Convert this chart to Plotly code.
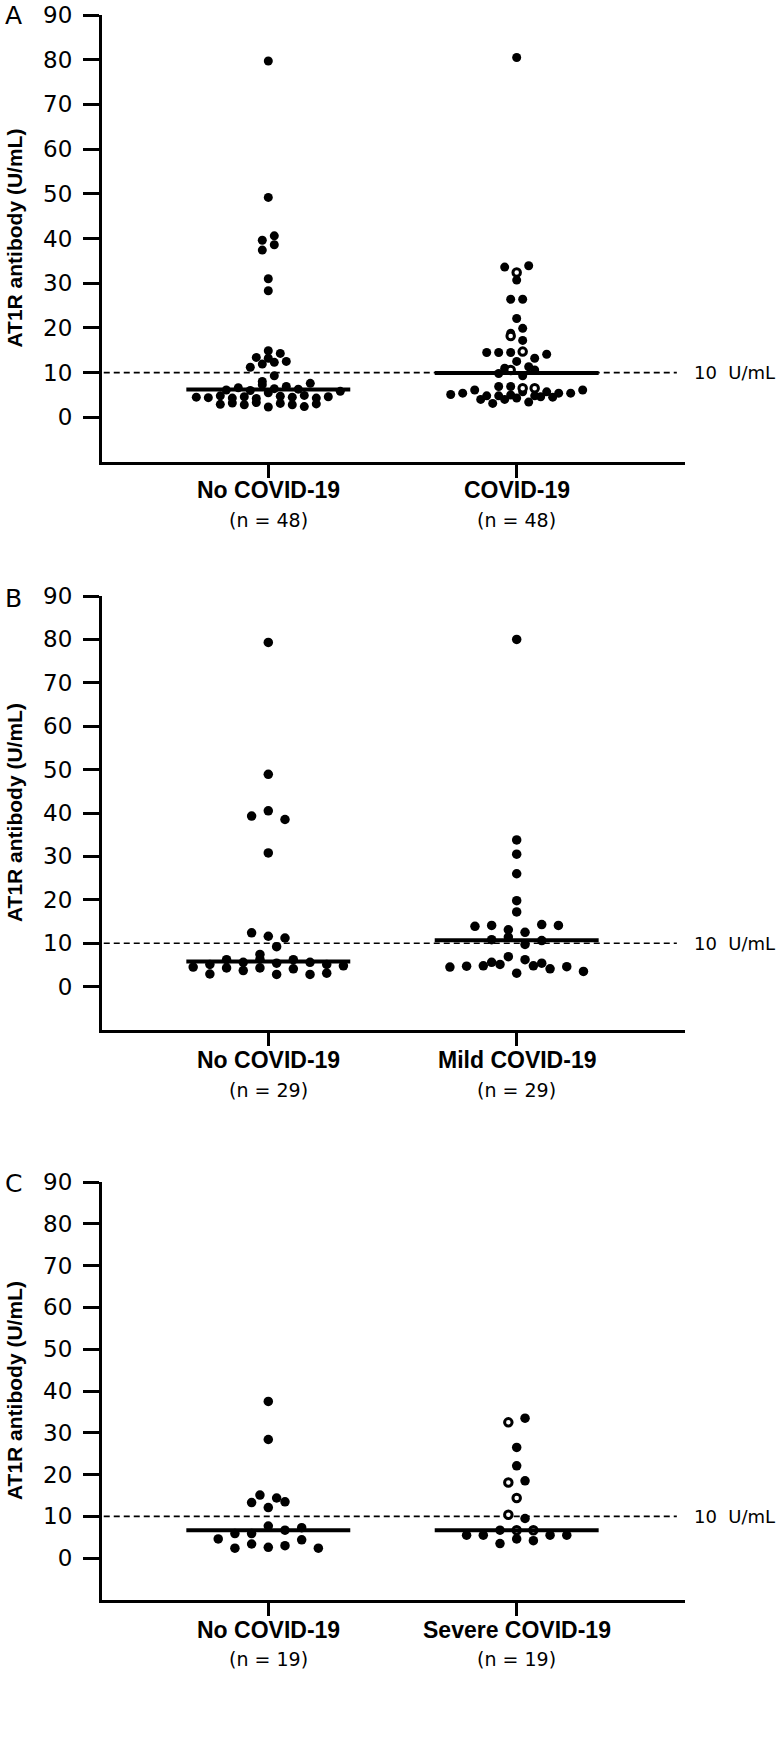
import plotly.graph_objects as go
import numpy as np

# ---------------- data ----------------
a_categories = ["No COVID-19", "COVID-19"]
b_categories = ["No COVID-19", "Mild COVID-19"]
c_categories = ["No COVID-19", "Severe COVID-19"]
a_counts = ["(n = 48)", "(n = 48)"]
b_counts = ["(n = 29)", "(n = 29)"]
c_counts = ["(n = 19)", "(n = 19)"]

a_no_covid = [2.9, 3.2, 2.8, 3.3, 2.3, 3.1, 2.8, 2.4, 3.0,
              4.5, 4.4, 4.8, 4.3, 4.6, 4.2, 5.5, 4.7, 4.5, 4.9, 4.3, 4.6,
              6.1, 6.6, 6.0, 7.3, 6.4, 5.8, 6.9, 6.3,
              7.6, 8.0,
              9.3, 11.2, 11.9, 12.3, 12.5, 13.4, 13.2, 14.3, 14.9,
              28.3, 31.0, 37.4, 38.6, 39.6, 40.6, 49.2, 79.7]
a_covid = [5.1, 5.4, 6.1, 4.0, 4.8, 4.8, 6.9, 5.0, 5.7, 3.1, 4.8, 5.7, 4.0,
           6.9, 4.3, 5.4, 3.4, 6.5, 4.6, 6.5, 4.5, 5.4, 6.1,
           9.8, 10.6, 11.0, 9.3, 10.6, 12.5, 11.3, 14.5, 14.5, 14.5, 14.7,
           13.2, 14.1, 18.2, 17.2, 18.8, 19.9, 22.1, 26.4, 26.4, 30.7,
           33.6, 32.4, 33.9, 80.5]
# 1 = severe-COVID patient (open circle)
a_covid_open = [0, 0, 0, 0, 0, 0, 0, 0, 0, 0, 0, 0, 0,
                0, 0, 0, 0, 1, 0, 1, 0, 0, 0,
                0, 1, 0, 0, 0, 0, 0, 0, 0, 0, 1,
                0, 0, 1, 0, 0, 0, 0, 0, 0, 0,
                0, 1, 0, 0]

b_no_covid = [4.5, 5.1, 2.9, 6.2, 4.3, 5.6, 3.7, 6.3, 4.3, 5.4, 2.8, 6.2,
              4.1, 5.6, 2.8, 5.1, 3.1, 7.4, 4.8,
              12.4, 11.6, 9.2, 11.2, 30.8, 39.3, 40.5, 38.5, 48.9, 79.3]
b_mild = [4.5, 5.6, 4.7, 4.8, 5.1, 3.1, 6.9, 4.8, 6.2, 4.1, 4.6, 5.4, 3.5,
          10.8, 11.4, 9.7, 10.6, 13.9, 14.1, 13.1, 12.5, 14.3, 14.1,
          17.2, 19.8, 26.0, 30.5, 33.8, 80.0]

c_no_covid = [4.6, 2.4, 5.9, 3.4, 5.9, 7.7, 2.6, 6.7, 3.0, 7.3, 4.4, 2.4,
              15.1, 13.3, 12.1, 14.4, 13.5, 28.4, 37.5]
c_severe = [6.7, 5.5, 5.5, 3.5, 6.7, 4.6, 6.7, 4.2, 5.5, 5.5,
            10.4, 9.5, 14.4, 18.1, 18.5, 22.1, 26.5, 32.5, 33.5]
c_severe_open = [0, 0, 0, 0, 1, 0, 1, 0, 0, 0,
                 1, 0, 1, 1, 0, 0, 0, 1, 0]

a_medians = [6.2, 9.9]
b_medians = [5.8, 10.7]
c_medians = [6.7, 6.7]

cutoff = 10
cutoff_label = "10\u00a0 U/mL"
y_ticks = [0, 10, 20, 30, 40, 50, 60, 70, 80, 90]
y_title = "AT1R antibody (U/mL)"
panel_letters = ["A", "B", "C"]

# ---------------- layout helpers ----------------
W, H = 784, 1740


def px_y(p):
    return 1 - p / H


def px_x(p):
    return p / W


def swarm_offsets(values, bin_h):
    """Prism-like rows: group sorted values into bins, centre each row."""
    vals = np.asarray(values, dtype=float)
    order = np.argsort(vals, kind="stable")
    rows, cur, start = [], [], None
    for i in order:
        if start is None or vals[i] - start >= bin_h:
            if cur:
                rows.append(cur)
            cur, start = [i], vals[i]
        else:
            cur.append(i)
    if cur:
        rows.append(cur)
    off = np.zeros(len(vals))
    for r in rows:
        r = sorted(r)
        n = len(r)
        for k, i in enumerate(r):
            off[i] = k - (n - 1) / 2
    return off


panels = [
    dict(cats=a_categories, counts=a_counts, groups=[a_no_covid, a_covid],
         opens=[None, a_covid_open], medians=a_medians,
         top=15, bottom=462, step=0.0483, bin_h=1.6, msize=9,
         labels_y=(490, 520), letter_y=16),
    dict(cats=b_categories, counts=b_counts, groups=[b_no_covid, b_mild],
         opens=[None, None], medians=b_medians,
         top=596, bottom=1030, step=0.0672, bin_h=2.2, msize=9.5,
         labels_y=(1060, 1090), letter_y=598),
    dict(cats=c_categories, counts=c_counts, groups=[c_no_covid, c_severe],
         opens=[None, c_severe_open], medians=c_medians,
         top=1182, bottom=1600, step=0.0672, bin_h=2.2, msize=9.5,
         labels_y=(1630, 1659), letter_y=1183),
]

x_left_px, x_right_px = 102, 685
x_range = [-0.6695, 1.6776]

fig = go.Figure()
annotations = []
shapes = []
layout_axes = {}

num_font = "DejaVu Sans"
bold_font = "Liberation Sans"

for pi, p in enumerate(panels):
    sfx = "" if pi == 0 else str(pi + 1)
    xa, ya = "x" + sfx, "y" + sfx
    for gi, vals in enumerate(p["groups"]):
        off = swarm_offsets(vals, p["bin_h"])
        xs = gi + off * p["step"]
        vals_arr = np.asarray(vals, dtype=float)
        op = p["opens"][gi]
        mask_open = np.zeros(len(vals), bool) if op is None else np.asarray(op, bool)
        fig.add_trace(go.Scatter(
            x=xs[~mask_open], y=vals_arr[~mask_open], mode="markers",
            marker=dict(symbol="circle", size=p["msize"], color="black",
                        line=dict(width=0)),
            xaxis=xa, yaxis=ya, showlegend=False, hoverinfo="y"))
        if mask_open.any():
            fig.add_trace(go.Scatter(
                x=xs[mask_open], y=vals_arr[mask_open], mode="markers",
                marker=dict(symbol="circle", size=7.5, color="white",
                            line=dict(width=3, color="black")),
                xaxis=xa, yaxis=ya, showlegend=False, hoverinfo="y"))
        # median line
        m = p["medians"][gi]
        fig.add_trace(go.Scatter(
            x=[gi - 0.33, gi + 0.33], y=[m, m], mode="lines",
            line=dict(color="black", width=4),
            xaxis=xa, yaxis=ya, showlegend=False, hoverinfo="skip"))

    # cutoff dashed line
    shapes.append(dict(type="line", xref=xa + " domain", yref=ya,
                       x0=0.003, x1=0.986, y0=cutoff, y1=cutoff,
                       line=dict(color="black", width=1.6, dash="6px,4px"),
                       layer="below"))
    annotations.append(dict(text=cutoff_label, xref="paper", yref=ya,
                            x=px_x(692), y=cutoff, xanchor="left",
                            yanchor="middle", showarrow=False,
                            font=dict(family=num_font, size=18, color="black")))
    # category labels
    for gi, (cat, cnt) in enumerate(zip(p["cats"], p["counts"])):
        annotations.append(dict(text="<b>" + cat + "</b>", xref=xa, yref="paper",
                                x=gi, y=px_y(p["labels_y"][0]),
                                xanchor="center", yanchor="middle",
                                showarrow=False,
                                font=dict(family=bold_font, size=23, color="black")))
        annotations.append(dict(text=cnt, xref=xa, yref="paper",
                                x=gi, y=px_y(p["labels_y"][1]),
                                xanchor="center", yanchor="middle",
                                showarrow=False,
                                font=dict(family=num_font, size=19, color="black")))
    # y title
    annotations.append(dict(text="<b>" + y_title + "</b>", xref="paper",
                            yref=ya + " domain", x=px_x(14), y=0.5,
                            xanchor="center", yanchor="middle", textangle=-90,
                            showarrow=False,
                            font=dict(family=bold_font, size=21, color="black")))
    # panel letter
    annotations.append(dict(text=panel_letters[pi], xref="paper", yref="paper",
                            x=px_x(13), y=px_y(p["letter_y"]),
                            xanchor="center", yanchor="middle", showarrow=False,
                            font=dict(family=num_font, size=25, color="black")))

    layout_axes["xaxis" + sfx] = dict(
        domain=[px_x(x_left_px), px_x(x_right_px)], range=x_range,
        anchor=ya, showgrid=False, zeroline=False, showline=True,
        linecolor="black", linewidth=3, ticks="outside", ticklen=13,
        tickwidth=3, tickcolor="black", tickvals=[0, 1],
        showticklabels=False, fixedrange=True, automargin=False)
    layout_axes["yaxis" + sfx] = dict(
        domain=[px_y(p["bottom"]), px_y(p["top"])], range=[-10, 90],
        anchor=xa, showgrid=False, zeroline=False, showline=True,
        linecolor="black", linewidth=3, ticks="outside", ticklen=16,
        tickwidth=3, tickcolor="black", tickvals=y_ticks,
        ticklabelstandoff=6,
        tickfont=dict(family=num_font, size=23, color="black"),
        fixedrange=True, automargin=False)

fig.update_layout(
    width=W, height=H, margin=dict(l=0, r=0, t=0, b=0, pad=0),
    paper_bgcolor="white", plot_bgcolor="white", template=None,
    annotations=annotations, shapes=shapes, showlegend=False,
    **layout_axes)

# place the figure at the page's top-left corner (remove the default body margin)
fig.write_html("out.html", config={"displayModeBar": False},
               post_script="document.body.style.margin='0px';"
                           "document.body.style.overflow='hidden';")
